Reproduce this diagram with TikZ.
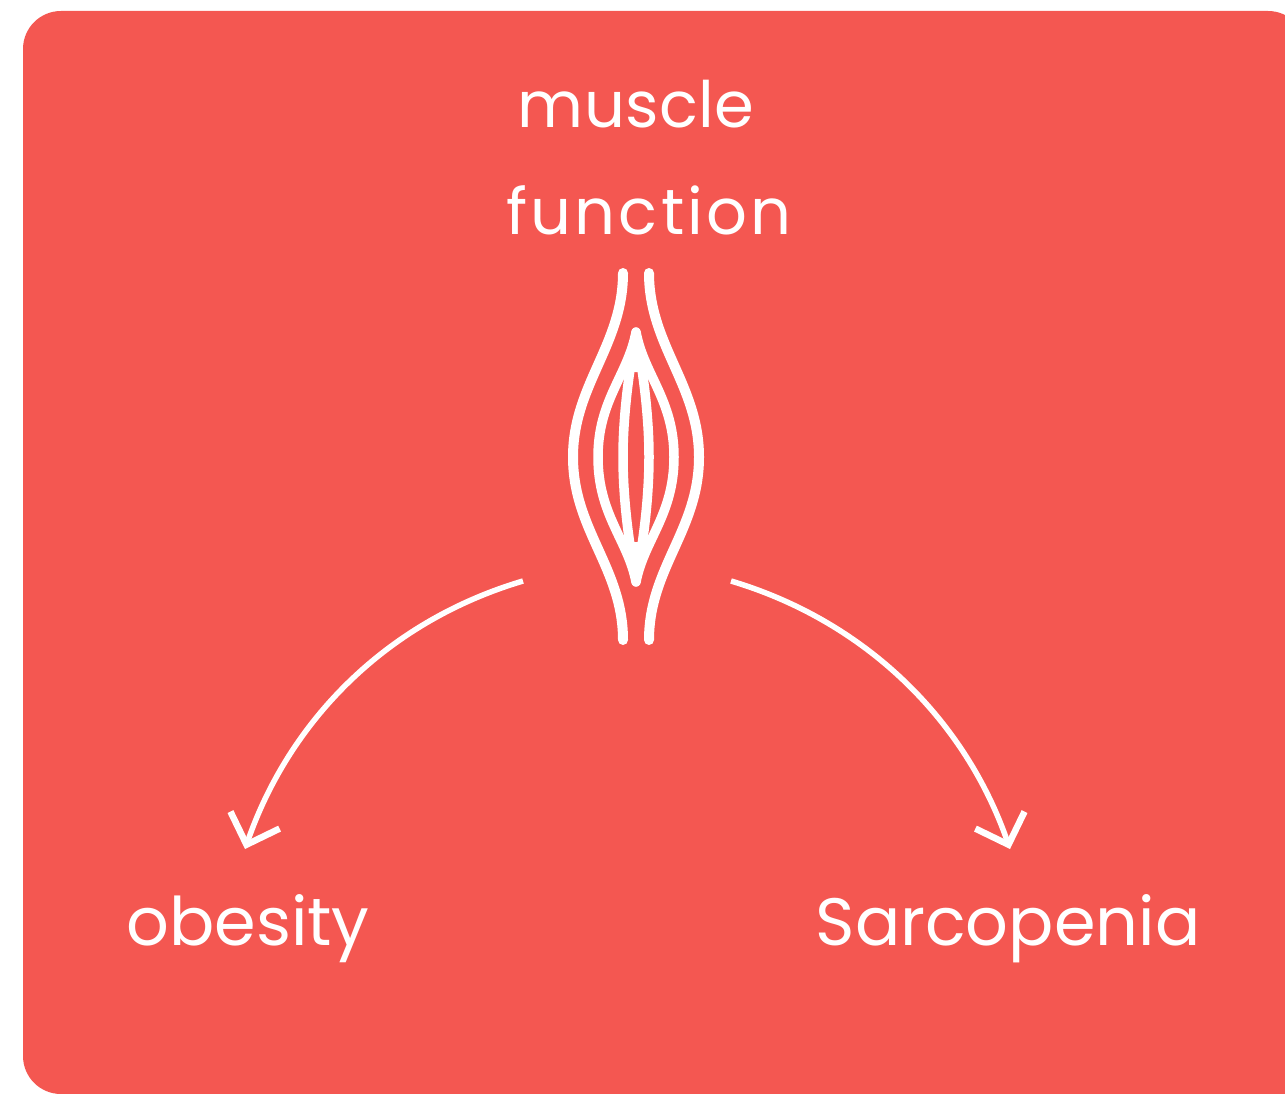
\documentclass[tikz,border=0pt]{standalone}
\usepackage{fontspec}
\setmainfont{Poppins}
\usetikzlibrary{arrows.meta}
\definecolor{coral}{HTML}{F45751}
\tikzset{
  panel/.style={fill=coral,draw=none,rounded corners=38pt},
  lbl/.style={text=white,inner sep=0pt,anchor=base},
  fibre/.style={draw=white,line width=10pt,line cap=round,line join=round},
  thin fibre/.style={draw=white,line width=9.5pt,line cap=round,line join=round},
  flow/.style={draw=white,line width=5.5pt,-{Straight Barb[length=26pt,width=52pt,line width=6.5pt]}}
}
\begin{document}
\begin{tikzpicture}[x=1pt,y=-1pt]
\useasboundingbox (0,0) rectangle (1285,1094);
\begin{scope}
\clip (0,0) rectangle (1285,1094);
\path[panel] (23,11) rectangle (1306,1094);
\fill[coral] (1200,1000) rectangle (1285,1094);
\end{scope}
\node[lbl,font=\fontsize{64}{64}\selectfont\addfontfeature{LetterSpace=0.5}] (muscle) at (636,128) {muscle};
\node[lbl,font=\fontsize{64}{64}\selectfont\addfontfeature{LetterSpace=5}] (function) at (649,235) {function};
\node[lbl,font=\fontsize{67}{67}\selectfont] (obesity) at (248,945) {obesity};
\node[lbl,font=\fontsize{67}{67}\selectfont] (sarcopenia) at (1008,945) {Sarcopenia};
\draw[fibre] (623,273) .. controls (623,345) and (573,385) .. (573,457) .. controls (573,530) and (623,568) .. (623,640);
\draw[fibre] (649,273) .. controls (649,345) and (699,385) .. (699,457) .. controls (699,530) and (649,568) .. (649,640);
\draw[thin fibre] (636,332) .. controls (628,375) and (598,400) .. (598,457) .. controls (598,515) and (628,540) .. (636,582);
\draw[thin fibre] (636,332) .. controls (644,375) and (674,400) .. (674,457) .. controls (674,515) and (644,540) .. (636,582);
\draw[thin fibre] (636,335) .. controls (628,375) and (623,420) .. (623,457) .. controls (623,495) and (628,540) .. (636,579);
\draw[thin fibre] (636,335) .. controls (644,375) and (649,420) .. (649,457) .. controls (649,495) and (644,540) .. (636,579);
\fill[white] (636,330) -- (650,372) -- (622,372) -- cycle;
\fill[white] (636,584) -- (622,542) -- (650,542) -- cycle;
\coordinate (o1) at (523,581);
\coordinate (o2) at (245,849);
\coordinate (s1) at (731,581);
\coordinate (s2) at (1010,849);
\draw[flow] (o1) .. controls (385,622) and (289,722) .. (o2);
\draw[flow] (s1) .. controls (868,622) and (966,722) .. (s2);
\end{tikzpicture}
\end{document}
